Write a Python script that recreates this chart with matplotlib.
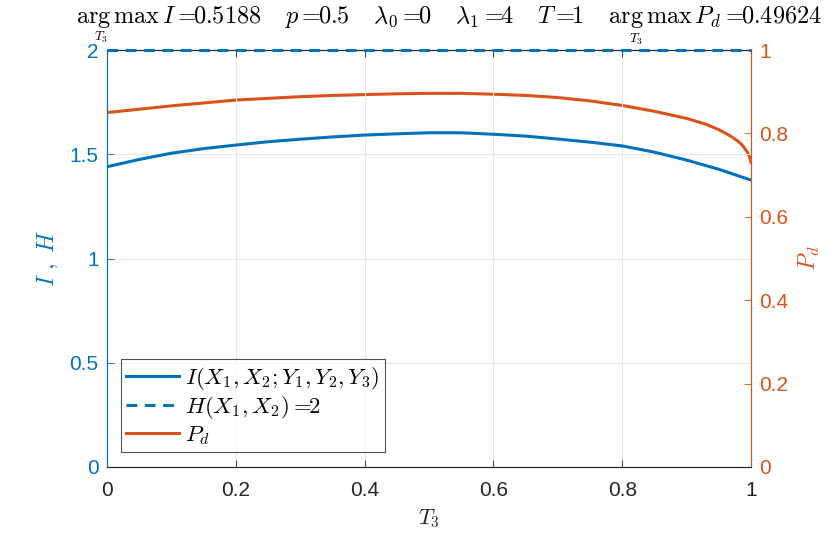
import matplotlib
matplotlib.use("Agg")
import matplotlib.pyplot as plt

plt.rcParams['mathtext.fontset'] = 'cm'
plt.rcParams['font.family'] = ['Liberation Sans', 'DejaVu Sans']

# Data
t3_I = [0.0, 0.05, 0.1, 0.15, 0.2, 0.25, 0.3, 0.35, 0.4, 0.45, 0.5,
        0.55, 0.6, 0.65, 0.7, 0.75, 0.8, 0.85, 0.9, 0.95, 1.0]
I_vals = [1.440, 1.475, 1.505, 1.527, 1.544, 1.560, 1.572, 1.583, 1.592, 1.598, 1.603,
          1.603, 1.596, 1.587, 1.573, 1.558, 1.540, 1.510, 1.472, 1.428, 1.376]
H_val = 2.0
t3_P = [0.0, 0.05, 0.1, 0.15, 0.2, 0.25, 0.3, 0.35, 0.4, 0.45, 0.5,
        0.55, 0.6, 0.65, 0.7, 0.75, 0.8, 0.85, 0.9, 0.93, 0.95, 0.96, 0.97, 0.98,
        0.985, 0.99, 0.995, 0.998, 1.0]
Pd_vals = [0.850, 0.858, 0.866, 0.873, 0.880, 0.884, 0.888, 0.891, 0.893, 0.895, 0.896,
           0.896, 0.894, 0.891, 0.886, 0.878, 0.867, 0.853, 0.836, 0.822, 0.809, 0.801,
           0.792, 0.781, 0.774, 0.765, 0.753, 0.743, 0.730]
x_ticks = [0, 0.2, 0.4, 0.6, 0.8, 1]
x_ticklabels = ['0', '0.2', '0.4', '0.6', '0.8', '1']
yl_ticks = [0, 0.5, 1, 1.5, 2]
yl_ticklabels = ['0', '0.5', '1', '1.5', '2']
yr_ticks = [0, 0.2, 0.4, 0.6, 0.8, 1]
yr_ticklabels = ['0', '0.2', '0.4', '0.6', '0.8', '1']

BLUE = '#0072BD'
ORANGE = '#D95319'

fig = plt.figure(figsize=(8.3, 5.33), dpi=100)
ax = fig.add_axes([107/830, 1 - 467/533, (751-107)/830, (467-50)/533])
ax2 = ax.twinx()

l1, = ax.plot(t3_I, I_vals, color=BLUE, lw=2.2, label=r'$I(X_1,X_2;Y_1,Y_2,Y_3)$')
l2 = ax.axhline(H_val, color=BLUE, lw=2.2, ls=(0, (3.5, 2.5)), zorder=4, clip_on=False,
                label=r'$H(X_1,X_2) =\!\!2$')
l3, = ax2.plot(t3_P, Pd_vals, color=ORANGE, lw=2.2, label=r'$P_d$')

ax.set_xlim(0, 1)
ax.set_ylim(0, 2)
ax2.set_ylim(0, 1)
ax.set_xticks(x_ticks)
ax.set_xticklabels(x_ticklabels)
ax.set_yticks(yl_ticks)
ax.set_yticklabels(yl_ticklabels)
ax2.set_yticks(yr_ticks)
ax2.set_yticklabels(yr_ticklabels)

ax.grid(True, color='#e6e6e6', lw=0.8)
ax.set_axisbelow(True)

for a in (ax, ax2):
    a.tick_params(direction='in', length=5, width=0.6, labelsize=15)
ax.tick_params(axis='x', top=True, colors='#262626', pad=10)
ax.tick_params(axis='y', colors=BLUE, pad=6)
ax2.tick_params(axis='y', colors=ORANGE, pad=6)

for a in (ax, ax2):
    a.spines['top'].set_color('#262626')
    a.spines['bottom'].set_color('#262626')
    a.spines['left'].set_color(BLUE)
    a.spines['right'].set_color(ORANGE)
    for s in a.spines.values():
        s.set_linewidth(0.8)

ax.set_xlabel(r'$T_3$', fontsize=16, color='#262626', labelpad=5)
ax.set_ylabel(r'$I\ ,\ H$', fontsize=17, color=BLUE, labelpad=6)
ax2.set_ylabel(r'$P_d$', fontsize=17, color=ORANGE, labelpad=6)

title = (r'$\arg\max\,I =\!\!0.5188\quad\, p =\!\!0.5\quad\, \lambda_0 =\!\!0'
         r'\quad\, \lambda_1 =\!\!4\quad\, T =\!\!1\quad\, \arg\max\,P_d =\!\!0.49624$')
fig.text(449/830, 1 - 17/533, title, ha='center', va='center', fontsize=17.5, color='black')
fig.text(101/830, 1 - 37/533, r'$T_3$', ha='center', va='center', fontsize=9.5)
fig.text(636/830, 1 - 39/533, r'$T_3$', ha='center', va='center', fontsize=9.5)

leg = ax.legend(handles=[l1, l2, l3], loc='lower left', bbox_to_anchor=(0.021, 0.035),
                fontsize=16.5, frameon=True, fancybox=False, edgecolor='#262626',
                handlelength=2.3, handletextpad=0.25, borderpad=0.25, labelspacing=0.08,
                borderaxespad=0)
leg.get_frame().set_linewidth(0.8)
leg.set_zorder(10)
ax.set_zorder(ax2.get_zorder() + 1)
ax.patch.set_visible(False)
fig.savefig('out.png', dpi=100)
